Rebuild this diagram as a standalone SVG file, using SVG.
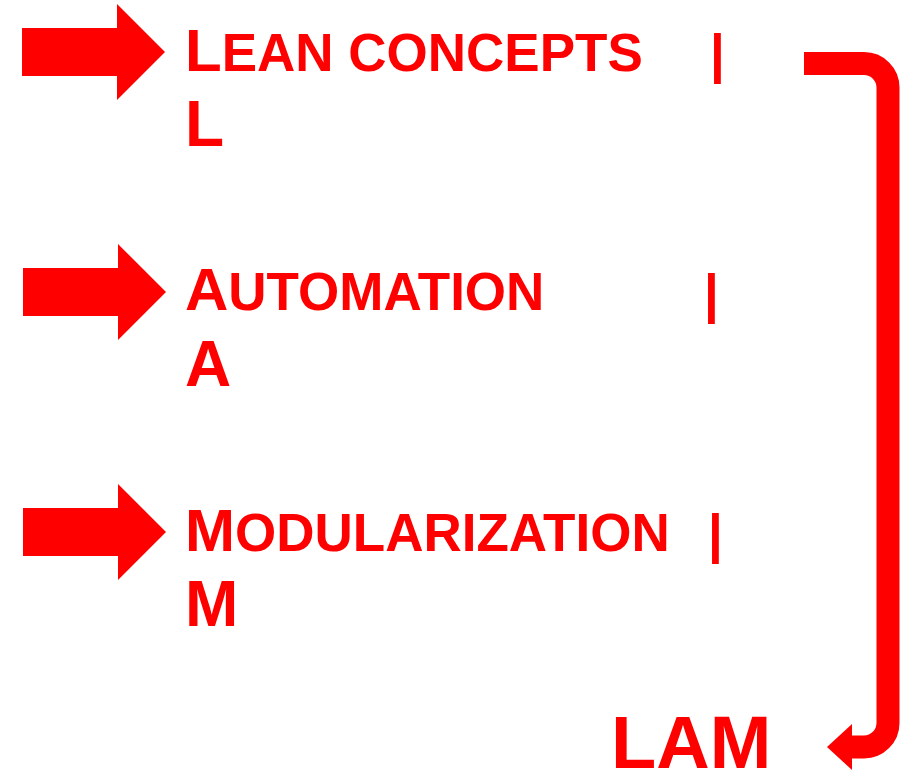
<svg xmlns="http://www.w3.org/2000/svg" width="906" height="770" viewBox="0 0 906 770">
  <style>
    text { font-family: "Liberation Sans", Arial, sans-serif; font-weight: bold; fill: #ff0000; }
    .cap { font-size: 60px; }
    .sc { font-size: 53px; }
    .big { font-size: 64px; }
    .lam { font-size: 74px; }
    .block { fill: #ff0000; }
  </style>
  <defs>
    <!-- block arrow pointing right, origin at shaft's left-centre -->
    <polygon id="blockArrow" class="block" points="0,-24 95,-24 95,-48 143,0 95,48 95,24 0,24"/>
  </defs>

  <rect width="906" height="770" fill="#ffffff"/>

  <g id="item-lean">
    <use href="#blockArrow" x="22" y="52"/>
    <text x="185" y="71"><tspan class="cap">L</tspan><tspan class="sc">EAN CONCEPTS</tspan></text>
    <text class="sc" x="710" y="72">|</text>
    <text class="big" x="185" y="146">L</text>
  </g>

  <g id="item-automation">
    <use href="#blockArrow" x="23" y="292"/>
    <text x="185" y="310"><tspan class="cap">A</tspan><tspan class="sc">UTOMATION</tspan></text>
    <text class="sc" x="704" y="312">|</text>
    <text class="big" x="185" y="386">A</text>
  </g>

  <g id="item-modularization">
    <use href="#blockArrow" x="23" y="532"/>
    <text x="185" y="551"><tspan class="cap">M</tspan><tspan class="sc">ODULARIZATION</tspan></text>
    <text class="sc" x="708" y="552">|</text>
    <text class="big" x="185" y="626">M</text>
  </g>

  <g id="result-lam">
    <text class="lam" x="611" y="768">LAM</text>
  </g>

  <g id="connectors">
    <path d="M804 63.5 H864 A24 24 0 0 1 888 87.5 V723 A24 24 0 0 1 864 747 H850" fill="none" stroke="#ff0000" stroke-width="23"/>
    <polygon class="block" points="827,747 852,724 852,770"/>
  </g>
</svg>
